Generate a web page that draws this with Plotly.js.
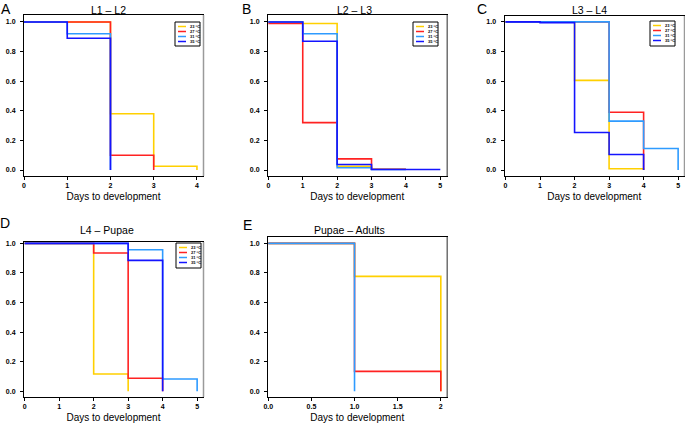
<!DOCTYPE html>
<html><head><meta charset="utf-8">
<script src="https://cdn.plot.ly/plotly-3.0.1.min.js"></script>
<style>html,body{margin:0;padding:0;background:#fff}</style>
</head><body><div id="chart" style="width:685px;height:425px"></div>
<script>
// ---- series / legend ----
const seriesNames = ['23 °C', '27 °C', '31 °C', '35 °C'];
const seriesColors = ['#FFD000', '#FF2222', '#2E9BFF', '#1414FF'];

// ---- Panel A: L1 – L2 ----
const A_days_23 = [0, 1, 2, 3, 4];    const A_surv_23 = [1, 1, 0.38, 0.025, 0];
const A_days_27 = [0, 1, 2, 3];       const A_surv_27 = [1, 1, 0.10, 0];
const A_days_31 = [0, 1, 2];          const A_surv_31 = [1, 0.92, 0];
const A_days_35 = [0, 1, 2];          const A_surv_35 = [1, 0.89, 0];

// ---- Panel B: L2 – L3 ----
const B_days_23 = [0, 1, 2, 3, 4];    const B_surv_23 = [1, 0.99, 0.025, 0.005, 0.005];
const B_days_27 = [0, 1, 2, 3, 4];    const B_surv_27 = [0.99, 0.32, 0.075, 0.005, 0.005];
const B_days_31 = [0, 1, 2, 3, 4];    const B_surv_31 = [1, 0.92, 0.015, 0.003, 0.003];
const B_days_35 = [0, 1, 2, 3, 5];    const B_surv_35 = [1, 0.87, 0.037, 0.003, 0.003];

// ---- Panel C: L3 – L4 ----
const C_days_23 = [0, 1, 2, 3, 4];    const C_surv_23 = [1, 1, 0.605, 0.008, 0];
const C_days_27 = [0, 1, 2, 3, 4];    const C_surv_27 = [1, 1, 1, 0.39, 0];
const C_days_31 = [0, 1, 2, 3, 4, 5]; const C_surv_31 = [1, 1, 1, 0.33, 0.145, 0];
const C_days_35 = [0, 1, 2, 3, 4];    const C_surv_35 = [1, 0.995, 0.253, 0.105, 0];

// ---- Panel D: L4 – Pupae ----
const D_days_23 = [0, 1, 2, 3];       const D_surv_23 = [1, 1, 0.117, 0];
const D_days_27 = [0, 1, 2, 3, 4];    const D_surv_27 = [1, 1, 0.935, 0.088, 0];
const D_days_31 = [0, 1, 2, 3, 4, 5]; const D_surv_31 = [1, 1, 1, 0.957, 0.083, 0];
const D_days_35 = [0, 1, 2, 3, 4];    const D_surv_35 = [1, 1, 1, 0.885, 0];

// ---- Panel E: Pupae – Adults ----
const E_days_23 = [0, 1, 2];          const E_surv_23 = [1, 0.777, 0];
const E_days_27 = [0, 1, 2];          const E_surv_27 = [1, 0.135, 0];
const E_days_31 = [0, 1];             const E_surv_31 = [1, 0];

// ---- labels ----
const panelLetters = ['A', 'B', 'C', 'D', 'E'];
const panelTitles = ['L1 – L2', 'L2 – L3', 'L3 – L4', 'L4 – Pupae', 'Pupae – Adults'];
const xAxisTitle = 'Days to development';
const yTickVals = [0, 0.2, 0.4, 0.6, 0.8, 1.0];
const eTickVals = [0, 0.5, 1, 1.5, 2];
const eTickText = ['0.0', '0.5', '1.0', '1.5', '2'];

const panelSeries = [
  [[A_days_23, A_surv_23, 0], [A_days_27, A_surv_27, 1], [A_days_31, A_surv_31, 2], [A_days_35, A_surv_35, 3]],
  [[B_days_23, B_surv_23, 0], [B_days_27, B_surv_27, 1], [B_days_31, B_surv_31, 2], [B_days_35, B_surv_35, 3]],
  [[C_days_23, C_surv_23, 0], [C_days_27, C_surv_27, 1], [C_days_31, C_surv_31, 2], [C_days_35, C_surv_35, 3]],
  [[D_days_23, D_surv_23, 0], [D_days_27, D_surv_27, 1], [D_days_31, D_surv_31, 2], [D_days_35, D_surv_35, 3]],
  [[E_days_23, E_surv_23, 0], [E_days_27, E_surv_27, 1], [E_days_31, E_surv_31, 2]]
];

// ---- layout geometry (pixels) ----
const W = 685, H = 425;
const FONT = 'Liberation Sans, Arial, sans-serif';
const boxes = [ // [left, top, right, bottom]
  [24, 15, 203, 176],
  [268, 15, 446.5, 176],
  [504.5, 16, 684, 176],
  [24, 242, 203, 397],
  [268, 237, 446.5, 397]
];
const xRanges = [[0, 4.14], [-0.01, 5.18], [-0.03, 5.17], [-0.02, 5.17], [-0.003, 2.066]];
const yRanges = [[-0.0405, 1.047], [-0.0405, 1.047], [-0.0405, 1.04], [-0.0385, 1.009], [-0.0385, 1.043]];
const letterPos = [[6, 9], [246, 9], [482, 9], [5, 223], [247, 225]];
const titlePos = [[108, 10], [354, 10], [589, 10], [107, 230], [349, 230]];
const legendBoxes = [[175, 22, 200, 46], [413, 22, 438, 46], [650, 21, 675, 46], [176, 243, 201, 268]];

const px = x => x / W;
const py = y => 1 - y / H;

const traces = [];
const layout = {
  width: W, height: H,
  margin: {l: 0, r: 0, t: 0, b: 0},
  paper_bgcolor: '#fff', plot_bgcolor: '#fff',
  showlegend: false,
  font: {family: FONT, color: '#000'},
  shapes: [], annotations: []
};

panelSeries.forEach((series, i) => {
  const n = i + 1;
  const xa = 'x' + (n === 1 ? '' : n), ya = 'y' + (n === 1 ? '' : n);
  series.forEach(([xs, ys, s]) => {
    traces.push({
      type: 'scatter', mode: 'lines', x: xs, y: ys,
      xaxis: xa, yaxis: ya, name: seriesNames[s],
      line: {color: seriesColors[s], width: 1.6, shape: 'hv'},
      hoverinfo: 'skip'
    });
  });
  const b = boxes[i];
  const common = {
    showgrid: false, zeroline: false, showline: true, mirror: true,
    linecolor: '#000', linewidth: 1, ticks: 'outside', ticklen: 3, tickcolor: '#000',
    tickfont: {family: FONT, size: 7, color: '#000', weight: 'bold'}, fixedrange: true
  };
  layout['xaxis' + (n === 1 ? '' : n)] = Object.assign({}, common, {
    domain: [px(b[0]), px(b[2])], range: xRanges[i], anchor: ya,
    tickmode: i === 4 ? 'array' : 'linear', dtick: 1, tick0: 0,
    tickvals: i === 4 ? eTickVals : undefined, ticktext: i === 4 ? eTickText : undefined,
    title: {text: xAxisTitle, font: {family: FONT, size: 10, color: '#000'}, standoff: 4}
  });
  layout['yaxis' + (n === 1 ? '' : n)] = Object.assign({}, common, {
    domain: [py(b[3]), py(b[1])], range: yRanges[i], anchor: xa,
    tickmode: 'array', tickvals: yTickVals, tickformat: '.1f', ticklabelstandoff: 3
  });
  // grey right edge
  layout.shapes.push({type: 'line', xref: 'paper', yref: 'paper',
    x0: px(b[2] + 0.5), x1: px(b[2] + 0.5), y0: py(b[3]), y1: py(b[1]),
    line: {color: '#9a9a9a', width: 1.5}});
  layout.annotations.push({xref: 'paper', yref: 'paper', x: px(letterPos[i][0]), y: py(letterPos[i][1]),
    text: panelLetters[i], showarrow: false, xanchor: 'center', yanchor: 'middle',
    font: {family: FONT, size: 14, color: '#000'}});
  layout.annotations.push({xref: 'paper', yref: 'paper', x: px(titlePos[i][0]), y: py(titlePos[i][1]),
    text: panelTitles[i], showarrow: false, xanchor: 'center', yanchor: 'middle',
    font: {family: FONT, size: 10.5, color: '#000'}});
});

// custom compact legends (panels A–D)
legendBoxes.forEach(lb => {
  layout.shapes.push({type: 'rect', xref: 'paper', yref: 'paper',
    x0: px(lb[0]), x1: px(lb[2]), y0: py(lb[3]), y1: py(lb[1]),
    line: {color: '#000', width: 1}, fillcolor: '#fff'});
  seriesNames.forEach((nm, k) => {
    const yy = lb[1] + 4.5 + 5 * k;
    layout.shapes.push({type: 'line', xref: 'paper', yref: 'paper',
      x0: px(lb[0] + 3), x1: px(lb[0] + 11), y0: py(yy), y1: py(yy),
      line: {color: seriesColors[k], width: 1.5}});
    layout.annotations.push({xref: 'paper', yref: 'paper', x: px(lb[0] + 13), y: py(yy),
      text: nm, showarrow: false, xanchor: 'left', yanchor: 'middle',
      font: {family: FONT, size: 4, color: '#000', weight: 'bold'}});
  });
});

Plotly.newPlot('chart', traces, layout, {displayModeBar: false, staticPlot: true});
</script></body></html>
